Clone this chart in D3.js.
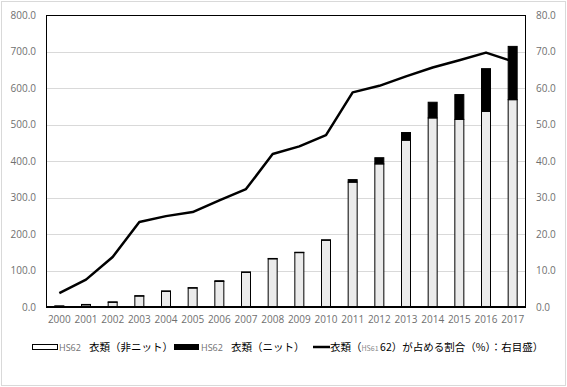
<!DOCTYPE html>
<html>
<head>
<meta charset="utf-8">
<script src="https://cdn.jsdelivr.net/npm/d3@7"></script>
<style>
  body { margin: 0; background: #fff; }
  svg text { font-family: "Open Sans", "Noto Sans", sans-serif; }
  .jp { font-family: "Noto Sans CJK JP", sans-serif; }
</style>
</head>
<body>
<div id="chart"></div>
<script>
// clothing imports chart: stacked bars (left axis) + share line (right axis)
const years = ['2000','2001','2002','2003','2004','2005','2006','2007','2008','2009',
               '2010','2011','2012','2013','2014','2015','2016','2017'];
const nonKnit = [2, 6, 13, 30, 43, 52, 70, 95, 132, 149, 183, 342, 392, 457, 518, 514, 536, 568];
const knit    = [1, 1, 1, 1, 1, 1, 2, 1, 1, 1, 1, 7, 17, 21, 43, 68, 117, 146];
const share   = [3.8, 7.5, 13.7, 23.3, 24.9, 26.0, 29.2, 32.3, 41.9, 44.0, 47.1, 58.8, 60.6, 63.2, 65.6, 67.6, 69.7, 67.3];
const leftTicks = [0, 100, 200, 300, 400, 500, 600, 700, 800];
const rightTicks = [0, 10, 20, 30, 40, 50, 60, 70, 80];

const W = 567, H = 387;
const plot = { left: 46, right: 526, top: 15, bottom: 307 };

const svg = d3.select('#chart').append('svg')
    .attr('width', W).attr('height', H);

// outer frame
svg.append('rect')
    .attr('x', 1.5).attr('y', 1.5).attr('width', W - 3).attr('height', H - 3)
    .attr('fill', '#fff').attr('stroke', '#d9d9d9');

const x = d3.scaleBand().domain(years).range([plot.left, plot.right]);
const yL = d3.scaleLinear().domain([0, 800]).range([plot.bottom, plot.top]);
const yR = d3.scaleLinear().domain([0, 80]).range([plot.bottom, plot.top]);

// gridlines
svg.append('g')
    .selectAll('line')
    .data(leftTicks.slice(1, -1))
    .enter().append('line')
    .attr('x1', plot.left).attr('x2', plot.right)
    .attr('y1', d => Math.round(yL(d)) + 0.5).attr('y2', d => Math.round(yL(d)) + 0.5)
    .attr('stroke', '#d9d9d9');

// plot border
svg.append('rect')
    .attr('x', plot.left + 0.5).attr('y', plot.top + 0.5)
    .attr('width', plot.right - plot.left - 1).attr('height', plot.bottom - plot.top)
    .attr('fill', 'none').attr('stroke', '#000').attr('stroke-width', 1);

// left axis
const axL = svg.append('g')
    .attr('transform', `translate(${plot.left},0)`)
    .call(d3.axisLeft(yL).tickValues(leftTicks).tickFormat(d3.format('.1f')).tickSize(0).tickPadding(10));
axL.select('.domain').remove();
axL.selectAll('text').attr('fill', '#6f6f6f').attr('font-size', 10);

// right axis
const axR = svg.append('g')
    .attr('transform', `translate(${plot.right},0)`)
    .call(d3.axisRight(yR).tickValues(rightTicks).tickFormat(d3.format('.1f')).tickSize(0).tickPadding(10));
axR.select('.domain').remove();
axR.selectAll('text').attr('fill', '#6f6f6f').attr('font-size', 10);

// bars
const bw = 9;
const bars = svg.append('g');
bars.selectAll('.nk')
    .data(years)
    .enter().append('rect')
    .attr('class', 'nk')
    .attr('x', d => x(d) + x.bandwidth() / 2 - bw / 2)
    .attr('y', (d, i) => yL(nonKnit[i]))
    .attr('width', bw)
    .attr('height', (d, i) => yL(0) - yL(nonKnit[i]))
    .attr('fill', '#ebebeb').attr('stroke', '#000').attr('stroke-width', 1);
bars.selectAll('.k')
    .data(years)
    .enter().append('rect')
    .attr('class', 'k')
    .attr('x', d => x(d) + x.bandwidth() / 2 - bw / 2)
    .attr('y', (d, i) => yL(nonKnit[i] + knit[i]))
    .attr('width', bw)
    .attr('height', (d, i) => yL(nonKnit[i]) - yL(nonKnit[i] + knit[i]))
    .attr('fill', '#000').attr('stroke', '#000').attr('stroke-width', 1);

// bottom axis line
svg.append('line')
    .attr('x1', plot.left).attr('x2', plot.right)
    .attr('y1', plot.bottom).attr('y2', plot.bottom)
    .attr('stroke', '#000').attr('stroke-width', 2);

// x labels
const axX = svg.append('g')
    .attr('transform', `translate(0,${plot.bottom})`)
    .call(d3.axisBottom(x).tickSize(0).tickPadding(9));
axX.select('.domain').remove();
axX.selectAll('text').attr('fill', '#6f6f6f').attr('font-size', 10);

// share line
const line = d3.line()
    .x((d, i) => x(years[i]) + x.bandwidth() / 2)
    .y(d => yR(d));
svg.append('path')
    .datum(share)
    .attr('d', line)
    .attr('fill', 'none').attr('stroke', '#000').attr('stroke-width', 2.5)
    .attr('stroke-linejoin', 'round');

// legend
const lg = svg.append('g');
const ly = 347;
lg.append('rect').attr('x', 32.5).attr('y', ly - 2.5).attr('width', 25).attr('height', 5)
    .attr('fill', '#fff').attr('stroke', '#000');
lg.append('text').attr('x', 59).attr('y', ly + 3.5).attr('font-size', 9).attr('fill', '#6f6f6f').text('HS62');
lg.append('text').attr('class', 'jp').attr('x', 89).attr('y', ly + 4).attr('font-size', 10.5).attr('fill', '#000').text('衣類（非ニット）');

lg.append('rect').attr('x', 174).attr('y', ly - 3).attr('width', 25).attr('height', 6).attr('fill', '#000');
lg.append('text').attr('x', 201).attr('y', ly + 3.5).attr('font-size', 9).attr('fill', '#6f6f6f').text('HS62');
lg.append('text').attr('class', 'jp').attr('x', 231).attr('y', ly + 4).attr('font-size', 10.5).attr('fill', '#000').text('衣類（ニット）');

lg.append('line').attr('x1', 313).attr('x2', 330).attr('y1', ly).attr('y2', ly)
    .attr('stroke', '#000').attr('stroke-width', 2.5);
const t3 = lg.append('text').attr('class', 'jp').attr('x', 330).attr('y', ly + 4).attr('font-size', 10.5).attr('fill', '#000');
t3.append('tspan').text('衣類（');
t3.append('tspan').attr('font-size', 7).attr('fill', '#888').text('HS61 ');
t3.append('tspan').text('62）が占める割合（%）：右目盛）');
</script>
</body>
</html>
